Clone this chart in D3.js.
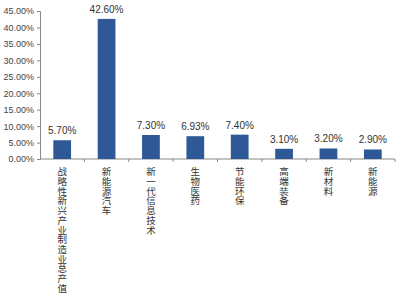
<!DOCTYPE html>
<html>
<head>
<meta charset="UTF-8">
<script src="https://d3js.org/d3.v7.min.js"></script>
<style>
  body { margin: 0; background: #fff; }
  svg { display: block; }
</style>
</head>
<body>
<svg id="chart" width="400" height="298"></svg>
<script>
const categories = ["战略性新兴产业制造业总产值", "新能源汽车", "新一代信息技术", "生物医药", "节能环保", "高端装备", "新材料", "新能源"];
const values = [5.7, 42.6, 7.3, 6.93, 7.4, 3.1, 3.2, 2.9];
const valueLabels = ["5.70%", "42.60%", "7.30%", "6.93%", "7.40%", "3.10%", "3.20%", "2.90%"];
const yTicks = [0, 5, 10, 15, 20, 25, 30, 35, 40, 45];

const svg = d3.select("#chart");
const plotLeft = 40, plotRight = 395, plotTop = 11, plotBottom = 159;

const x = d3.scaleBand().domain(categories).range([plotLeft, plotRight]).paddingInner(0.6).paddingOuter(0.3);
const xb = d3.scaleBand().domain(categories).range([plotLeft, plotRight]);
const y = d3.scaleLinear().domain([0, 45]).range([plotBottom, plotTop]);

// y axis
const yAxis = svg.append("g").attr("transform", `translate(${plotLeft},0)`)
  .call(d3.axisLeft(y).tickValues(yTicks).tickSize(3).tickFormat(d => d.toFixed(2) + "%"));
yAxis.select(".domain").attr("stroke", "#888");
yAxis.selectAll(".tick line").attr("stroke", "#888");
yAxis.selectAll("text").attr("font-family", "Liberation Sans, sans-serif").attr("font-size", 9).attr("fill", "#444").attr("x", -6);

// x axis line with boundary ticks
svg.append("line").attr("x1", plotLeft).attr("x2", plotRight).attr("y1", plotBottom).attr("y2", plotBottom).attr("stroke", "#888");
svg.append("g").selectAll("line").data(categories).join("line")
  .attr("x1", d => xb(d) + xb.bandwidth()).attr("x2", d => xb(d) + xb.bandwidth())
  .attr("y1", plotBottom).attr("y2", plotBottom + 3).attr("stroke", "#888");

// bars
svg.append("g").selectAll("rect").data(values).join("rect")
  .attr("x", (d, i) => x(categories[i]))
  .attr("width", x.bandwidth())
  .attr("y", d => y(d))
  .attr("height", d => plotBottom - y(d))
  .attr("fill", "#2e5996");

// value labels
svg.append("g").selectAll("text").data(values).join("text")
  .attr("x", (d, i) => x(categories[i]) + x.bandwidth() / 2)
  .attr("y", d => y(d) - 6)
  .attr("text-anchor", "middle")
  .attr("font-family", "Liberation Sans, sans-serif")
  .attr("font-size", 10)
  .attr("fill", "#333")
  .text((d, i) => valueLabels[i]);

// vertical category labels
svg.append("g").selectAll("text").data(categories).join("text")
  .attr("x", d => xb(d) + xb.bandwidth() / 2)
  .attr("y", 167)
  .style("writing-mode", "vertical-rl")
  .style("text-orientation", "upright")
  .attr("font-family", "Noto Sans CJK SC, sans-serif")
  .attr("font-size", 9.5)
  .attr("letter-spacing", 0.2)
  .attr("fill", "#333")
  .text(d => d);
</script>
</body>
</html>
